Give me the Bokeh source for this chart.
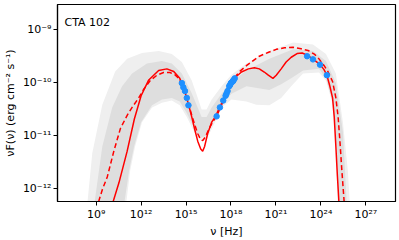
import numpy as np
from bokeh.plotting import figure
from bokeh.models import FixedTicker, Label
from bokeh.embed import file_html
from bokeh.resources import INLINE

# ---- data (log10 values) ----
# gray model band (outer, faint): upper and lower envelopes of log10(nuFnu)
outer_hi_nu = [8.41, 8.74, 9.41, 10.27, 11.07, 12.06, 13.19, 14.05, 14.72, 15.38, 15.71, 16.04,
               16.37, 16.71, 17.37, 18.03, 19.03, 20.56, 22.15, 23.47, 24.34, 25.0, 25.47, 25.8, 25.93]
outer_hi_f = [-12.3, -11.34, -10.42, -9.79, -9.55, -9.44, -9.40, -9.46, -9.61, -9.96, -10.23, -10.51,
              -10.51, -10.32, -10.07, -9.85, -9.64, -9.40, -9.24, -9.28, -9.46, -9.83, -10.75, -11.67, -12.3]
outer_lo_nu = [11.0, 11.27, 11.6, 12.06, 12.73, 13.39, 14.05, 14.58, 15.05, 15.38, 15.71, 16.04,
               16.37, 16.71, 17.04, 17.37, 18.03, 19.03, 19.69, 20.56, 21.35, 22.02, 22.81, 23.87,
               24.34, 24.8, 25.13, 25.2]
outer_lo_f = [-12.3, -11.67, -11.21, -10.75, -10.47, -10.38, -10.34, -10.43, -10.65, -10.84, -11.02, -11.11,
              -11.08, -10.88, -10.69, -10.47, -10.32, -10.36, -10.42, -10.43, -10.29, -10.07, -9.83, -9.81,
              -9.96, -10.43, -11.35, -12.3]

# gray model band (core, denser)
core_hi_nu = [8.88, 9.41, 10.07, 10.73, 11.4, 12.39, 13.39, 14.05, 14.72, 15.38, 16.04, 16.37,
              16.71, 17.37, 18.03, 19.03, 20.56, 22.15, 23.47, 24.34, 25.0, 25.47, 25.73]
core_hi_f = [-12.3, -11.21, -10.47, -10.07, -9.83, -9.64, -9.59, -9.64, -9.83, -10.2, -10.65, -10.65,
             -10.47, -10.21, -9.99, -9.77, -9.55, -9.37, -9.40, -9.59, -10.01, -10.93, -12.3]
core_lo_nu = [10.87, 11.2, 11.53, 12.0, 12.73, 13.39, 14.05, 14.58, 15.05, 15.38, 15.71, 16.04,
              16.37, 16.71, 17.04, 17.37, 18.03, 19.03, 20.56, 21.35, 22.02, 22.81, 23.87, 24.34,
              24.8, 25.07, 25.13]
core_lo_f = [-12.3, -11.67, -11.21, -10.75, -10.43, -10.32, -10.29, -10.36, -10.58, -10.77, -10.95, -11.04,
             -11.0, -10.8, -10.62, -10.42, -10.21, -10.07, -10.14, -10.03, -9.92, -9.77, -9.74, -9.92,
             -10.38, -11.35, -12.3]

# red solid model
solid_log_nu = [10.0, 10.52, 11.07, 11.55, 12.0, 12.51, 13.17, 13.72, 14.18, 14.58, 14.78, 14.98,
                15.18, 15.38, 15.58, 15.78, 15.98, 16.11, 16.24, 16.44, 16.71, 16.97, 17.24, 17.5,
                17.77, 18.03, 18.3, 18.7, 19.16, 19.56, 19.89, 20.22, 20.49, 20.8, 21.02, 21.35,
                21.68, 22.02, 22.41, 22.75, 23.08, 23.47, 23.94, 24.2, 24.4, 24.6, 24.78, 24.89,
                25.0, 25.1, 25.2, 25.27]
solid_log_f = [-12.38, -11.9, -11.3, -10.69, -10.25, -9.95, -9.77, -9.74, -9.79, -9.92, -10.07, -10.23,
               -10.43, -10.65, -10.89, -11.11, -11.26, -11.3, -11.21, -10.97, -10.75, -10.64, -10.47,
               -10.32, -10.16, -10.01, -9.9, -9.8, -9.74, -9.72, -9.74, -9.8, -9.86, -9.92, -9.86,
               -9.74, -9.61, -9.52, -9.45, -9.44, -9.48, -9.55, -9.66, -9.75, -9.86, -10.07, -10.29,
               -10.65, -11.21, -11.76, -12.25, -12.59]

# red dashed model
dashed_log_nu = [9.01, 9.41, 9.74, 10.18, 10.62, 11.07, 11.4, 11.84, 12.19, 12.61, 13.06, 13.5,
                 13.92, 14.25, 14.52, 14.72, 14.98, 15.18, 15.38, 15.58, 15.78, 15.98, 16.11, 16.31,
                 16.51, 16.77, 17.04, 17.3, 17.57, 17.83, 18.1, 18.37, 18.58, 19.03, 19.36, 19.89,
                 20.47, 21.02, 21.57, 22.15, 22.68, 23.14, 23.56, 23.87, 24.22, 24.47, 24.78, 25.0,
                 25.15, 25.27, 25.4, 25.55, 25.6]
dashed_log_f = [-12.4, -12.03, -11.79, -11.3, -10.87, -10.62, -10.47, -10.29, -10.12, -9.96, -9.86, -9.81,
                -9.81, -9.85, -9.92, -10.03, -10.23, -10.42, -10.62, -10.8, -10.97, -11.08, -11.1, -11.02,
                -10.89, -10.75, -10.64, -10.47, -10.29, -10.12, -9.99, -9.86, -9.79, -9.68, -9.61, -9.5,
                -9.43, -9.37, -9.34, -9.33, -9.36, -9.39, -9.46, -9.55, -9.68, -9.79, -9.98, -10.29,
                -10.65, -11.11, -11.67, -12.25, -12.49]

# observed data points
obs_log_nu = [14.72, 14.82, 14.93, 15.05, 15.16,
              17.04, 17.26, 17.48, 17.64, 17.7, 17.77, 17.88, 17.93, 17.99, 18.07, 18.15, 18.17, 18.25,
              23.08, 23.47, 23.94, 24.4]
obs_log_f = [-10.01, -10.09, -10.16, -10.29, -10.43,
             -10.64, -10.47, -10.34, -10.25, -10.21, -10.16, -10.07, -10.05, -10.01, -9.99, -9.97, -9.95, -9.92,
             -9.5, -9.56, -9.66, -9.86]

x_ticks = [1e9, 1e12, 1e15, 1e18, 1e21, 1e24, 1e27]
x_tick_labels = ["10⁹", "10¹²", "10¹⁵", "10¹⁸", "10²¹", "10²⁴", "10²⁷"]
y_ticks = [1e-12, 1e-11, 1e-10, 1e-9]
y_tick_labels = ["10⁻¹²", "10⁻¹¹", "10⁻¹⁰", "10⁻⁹"]

def p10(a):
    return (10.0 ** np.array(a, dtype=float)).tolist()

def band(hi_nu, hi_f, lo_nu, lo_f):
    xs = p10(hi_nu) + p10(lo_nu[::-1])
    ys = p10(hi_f) + p10(lo_f[::-1])
    return xs, ys

FONT = "DejaVu Sans"

p = figure(width=399, height=240, x_axis_type="log", y_axis_type="log",
           x_range=(10 ** 6.42, 10 ** 28.98), y_range=(10 ** -12.254, 10 ** -8.52),
           output_backend="svg", toolbar_location=None,
           min_border_left=55, min_border_right=4, min_border_top=4, min_border_bottom=33)

p.xgrid.visible = False
p.ygrid.visible = False
p.outline_line_color = "black"
p.outline_line_width = 1.2
p.background_fill_color = "white"
p.border_fill_color = "white"

ox, oy = band(outer_hi_nu, outer_hi_f, outer_lo_nu, outer_lo_f)
p.patch(ox, oy, fill_color="#efefef", line_color=None)
cx, cy = band(core_hi_nu, core_hi_f, core_lo_nu, core_lo_f)
p.patch(cx, cy, fill_color="#dedede", line_color=None)

p.line(p10(dashed_log_nu), p10(dashed_log_f), line_color="red", line_width=1.5, line_dash="5 3")
p.line(p10(solid_log_nu), p10(solid_log_f), line_color="red", line_width=1.5)
p.scatter(p10(obs_log_nu), p10(obs_log_f), size=5.5, fill_color="#1e90ff", line_color="#1e90ff")

for ax, ticks, labels in ((p.xaxis, x_ticks, x_tick_labels), (p.yaxis, y_ticks, y_tick_labels)):
    ax.ticker = FixedTicker(ticks=ticks, minor_ticks=[])
    ax.major_label_overrides = dict(zip(ticks, labels))
    ax.major_tick_out = 4
    ax.major_tick_in = 0
    ax.minor_tick_line_color = None
    ax.axis_line_color = "black"
    ax.axis_line_width = 1.2
    ax.major_label_text_font = FONT
    ax.major_label_text_font_size = "11px"
    ax.major_label_text_color = "black"
    ax.axis_label_text_font = FONT
    ax.axis_label_text_font_size = "11px"
    ax.axis_label_text_font_style = "normal"
    ax.axis_label_text_color = "black"
    ax.major_label_standoff = 2

p.xaxis.axis_label = "ν [Hz]"
p.yaxis.axis_label = "νF(ν) (erg cm⁻² s⁻¹)"
p.xaxis.axis_label_standoff = 1
p.yaxis.axis_label_standoff = 3

p.add_layout(Label(x=10 ** 6.89, y=10 ** -8.853, text="CTA 102", text_font=FONT,
                   text_font_size="11px", text_color="black", text_baseline="alphabetic"))

open("out.html", "w").write(file_html(p, INLINE))
